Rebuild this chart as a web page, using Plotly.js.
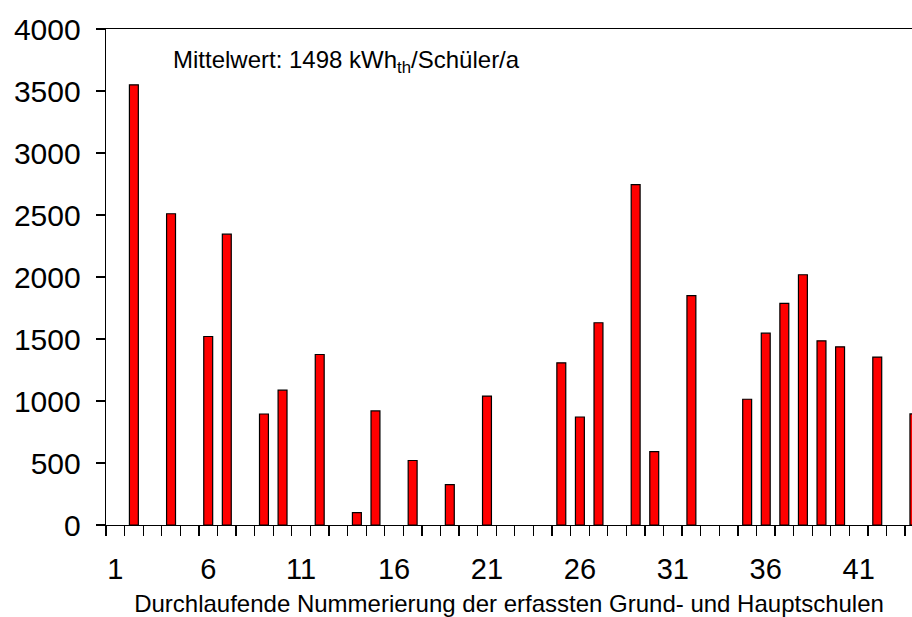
<!DOCTYPE html>
<html>
<head>
<meta charset="utf-8">
<script src="https://cdn.plot.ly/plotly-3.0.1.min.js"></script>
<style>
html,body{margin:0;padding:0;background:#fff;}
#chart{width:912px;height:617px;}
</style>
</head>
<body>
<div id="chart"></div>
<script>
// School number (x position) and specific heat consumption (kWh_th per pupil per year)
const schoolNo = [2, 4, 6, 7, 9, 10, 12, 14, 15, 17, 19, 21, 25, 26, 27, 29, 30, 32, 35, 36, 37, 38, 39, 40, 42, 44];
const heatPerPupil = [3550, 2510, 1520, 2345, 895, 1087, 1375, 100, 920, 520, 325, 1040, 1308, 871, 1631, 2745, 592, 1849, 1014, 1547, 1787, 2018, 1485, 1437, 1354, 896];
const xTickVals = [1, 6, 11, 16, 21, 26, 31, 36, 41];
const xTickText = ["1", "6", "11", "16", "21", "26", "31", "36", "41"];
const yTickVals = [0, 500, 1000, 1500, 2000, 2500, 3000, 3500, 4000];
const xTitle = "Durchlaufende Nummerierung der erfassten Grund- und Hauptschulen";
const meanText = "Mittelwert: 1498 kWh<sub>th</sub>/Schüler/a";

const FONT = "Liberation Sans, Arial, Helvetica, sans-serif";

const trace = {
  type: "bar",
  x: schoolNo,
  y: heatPerPupil,
  width: 0.48,
  marker: {color: "#FF0000", line: {color: "#000000", width: 1.2}},
  hoverinfo: "x+y"
};

const layout = {
  width: 912,
  height: 617,
  margin: {l: 106, r: 0, t: 29, b: 92, pad: 0},
  paper_bgcolor: "#ffffff",
  plot_bgcolor: "#ffffff",
  showlegend: false,
  font: {family: FONT, color: "#000000"},
  xaxis: {
    range: [0.5, 43.87],
    tickmode: "array",
    tickvals: xTickVals,
    ticktext: xTickText,
    ticks: "outside",
    ticklen: 10,
    tickcolor: "rgba(0,0,0,0)",
    ticklabelstandoff: 8,
    minor: {tickmode: "linear", tick0: 0.5, dtick: 1, ticks: "outside", ticklen: 10, tickwidth: 1.3, tickcolor: "#000000", showgrid: false},
    tickfont: {size: 29, family: FONT, color: "#000000"},
    showline: true,
    linecolor: "#000000",
    linewidth: 1.3,
    mirror: true,
    showgrid: false,
    zeroline: false,
    fixedrange: true,
    title: {text: xTitle, font: {size: 24, family: FONT, color: "#000000"}, standoff: 14}
  },
  yaxis: {
    range: [0, 4000],
    tickmode: "array",
    tickvals: yTickVals,
    ticks: "outside",
    ticklen: 9,
    tickwidth: 1.3,
    tickcolor: "#000000",
    ticklabelstandoff: 9,
    tickfont: {size: 30, family: FONT, color: "#000000"},
    showline: true,
    linecolor: "#000000",
    linewidth: 1.3,
    showgrid: false,
    zeroline: false,
    fixedrange: true
  },
  annotations: [{
    text: meanText,
    xref: "paper", yref: "paper",
    x: 0.0806, y: 0.934,
    xanchor: "left", yanchor: "middle",
    showarrow: false,
    font: {size: 24, family: FONT, color: "#000000"}
  }]
};

Plotly.newPlot("chart", [trace], layout, {staticPlot: true, displayModeBar: false});
</script>
</body>
</html>
